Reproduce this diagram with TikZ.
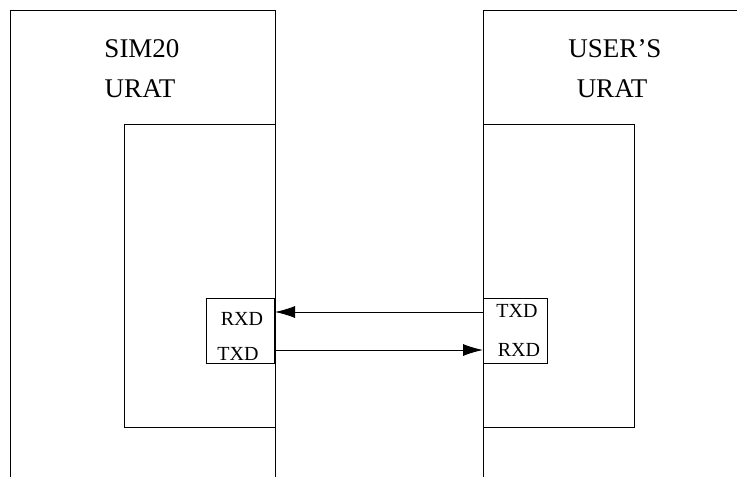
\documentclass[tikz,border=0pt]{standalone}
\usepackage{fontspec}
\setmainfont{Liberation Serif}
\usetikzlibrary{arrows.meta}

\begin{document}
\begin{tikzpicture}[x=1pt,y=-1pt,line width=0.9pt,
    title/.style={font=\fontsize{27}{32}\selectfont,anchor=base,inner sep=0pt},
    pin/.style={font=\fontsize{20}{24}\selectfont,anchor=base,inner sep=0pt},
    block/.style={draw,anchor=north west,inner sep=0pt,outer sep=0pt},
    sig/.style={-{Latex[length=20pt,width=12pt]}}]
        \useasboundingbox (0,0) rectangle (737,477);
        % SIM20 side (open at the bottom)
        \draw (10,477) -- (10,10) -- (275,10) -- (275,477);
        \node[title] (simname) at (142,57) {SIM20};
        \node[title] (simurat) at (140,97) {URAT};
        \node[block,minimum width=151pt,minimum height=303pt] (siminner) at (124,124) {};
        \node[block,minimum width=68pt,minimum height=65pt] (simport) at (206,298) {};
        \node[pin] (simrxd) at (242,325) {RXD};
        \node[pin] (simtxd) at (238,360) {TXD};
        % User side
        \draw (483,477) -- (483,10) -- (737,10);
        \node[title] (username) at (615,57) {USER'S};
        \node[title] (userurat) at (612,97) {URAT};
        \node[block,minimum width=151pt,minimum height=303pt] (userinner) at (483,124) {};
        \node[block,minimum width=64pt,minimum height=65pt] (userport) at (483,298) {};
        \node[pin] (usertxd) at (517,317) {TXD};
        \node[pin] (userrxd) at (519,356) {RXD};
        % Lines between the two
        \coordinate (simrx) at (275,312);
        \coordinate (simtx) at (275,350);
        \coordinate (usertx) at (483,312);
        \coordinate (userrx) at (483,350);
        \draw[sig] (usertx) -- (simrx);
        \draw[sig] (simtx) -- (userrx);
\end{tikzpicture}
\end{document}
